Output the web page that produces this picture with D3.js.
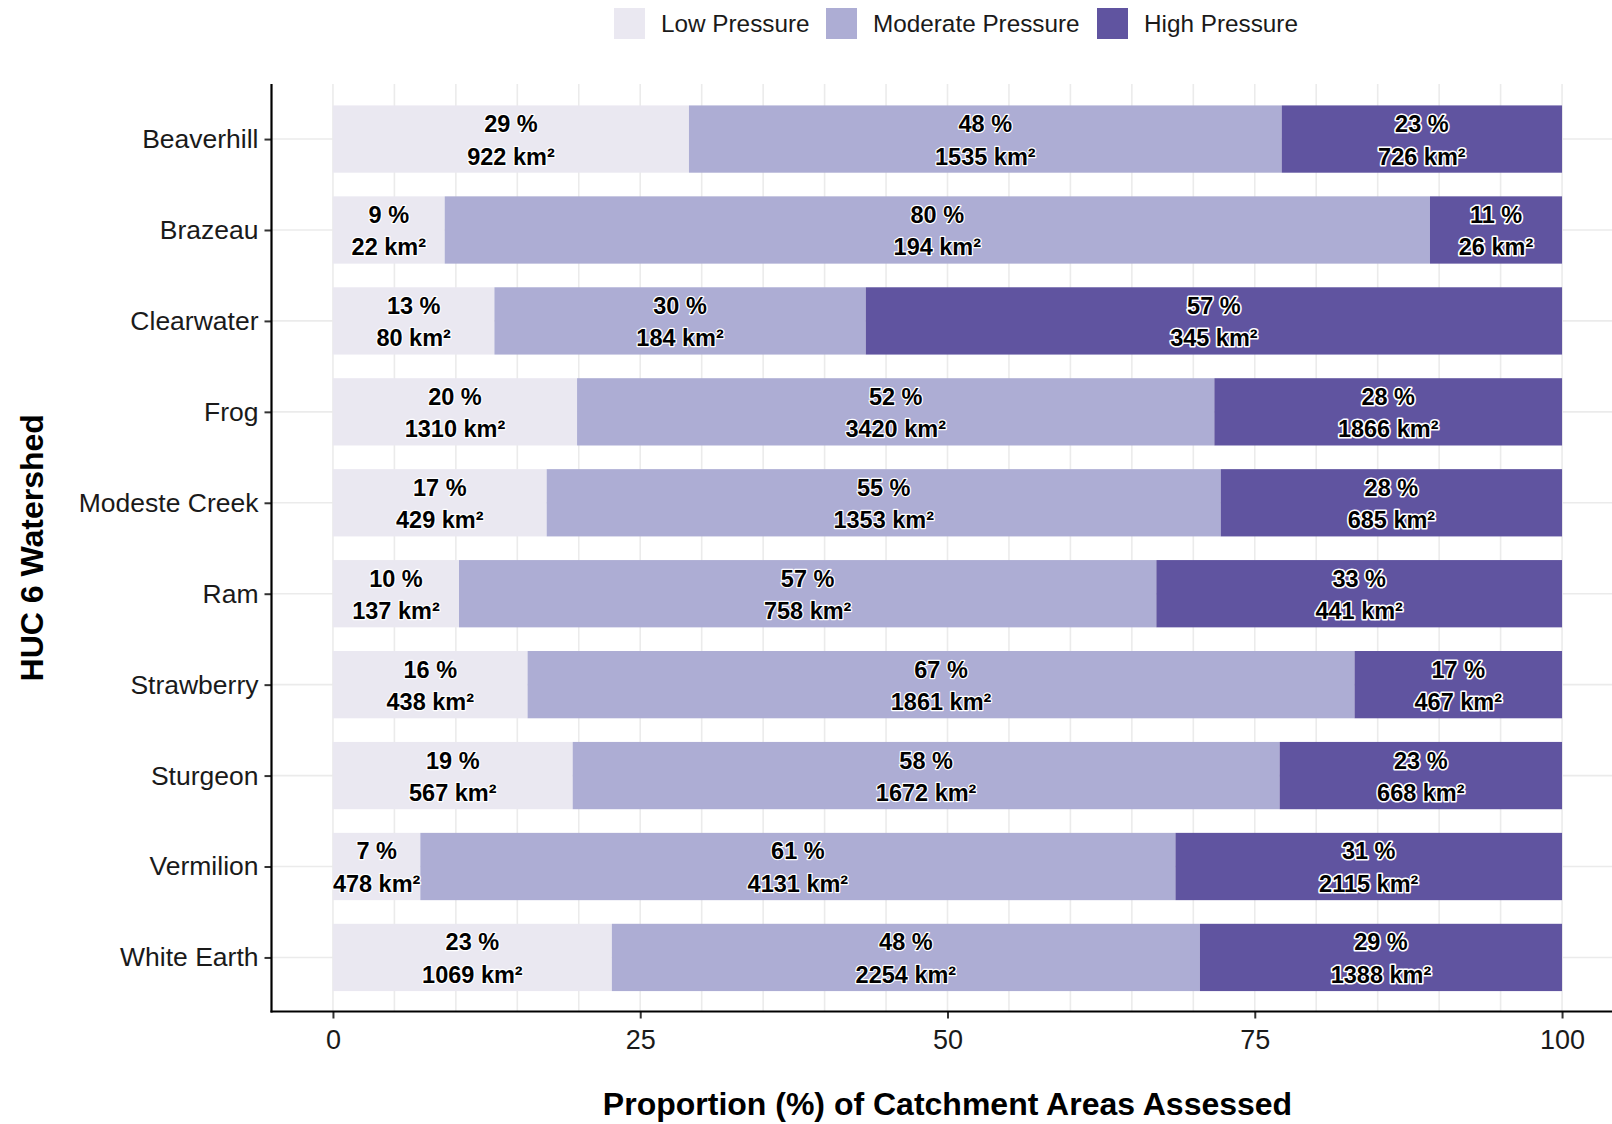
<!DOCTYPE html>
<html>
<head>
<meta charset="utf-8">
<script src="https://cdn.jsdelivr.net/npm/d3@7"></script>
<style>
  html, body { margin: 0; padding: 0; background: #fff; }
  svg { display: block; font-family: "Liberation Sans", Arial, Helvetica, sans-serif; }
</style>
</head>
<body>
<svg id="chart" width="1612" height="1124"></svg>
<script>
const categories = ["Beaverhill", "Brazeau", "Clearwater", "Frog", "Modeste Creek", "Ram", "Strawberry", "Sturgeon", "Vermilion", "White Earth"];
const seriesNames = ["Low Pressure", "Moderate Pressure", "High Pressure"];
const lowArea  = [922, 22, 80, 1310, 429, 137, 438, 567, 478, 1069];
const modArea  = [1535, 194, 184, 3420, 1353, 758, 1861, 1672, 4131, 2254];
const highArea = [726, 26, 345, 1866, 685, 441, 467, 668, 2115, 1388];
const lowPct   = [29, 9, 13, 20, 17, 10, 16, 19, 7, 23];
const modPct   = [48, 80, 30, 52, 55, 57, 67, 58, 61, 48];
const highPct  = [23, 11, 57, 28, 28, 33, 17, 23, 31, 29];
const xTicks = [0, 25, 50, 75, 100];
const colors = ["#EAE8F1", "#ADADD4", "#6054A0"];

const areas = [lowArea, modArea, highArea];
const pcts = [lowPct, modPct, highPct];
const rows = categories.map((c, i) => {
  const r = { category: c, i };
  seriesNames.forEach((s, k) => { r[s] = areas[k][i]; });
  return r;
});

const stack = d3.stack().keys(seriesNames).offset(d3.stackOffsetExpand);
const stacked = stack(rows);

const svg = d3.select("#chart");
const font = '"Liberation Sans", Arial, Helvetica, sans-serif';

const x = d3.scaleLinear().domain([-5, 105]).range([271.5, 1623.5]);
const y = d3.scalePoint().domain(categories).range([84.5, 1012]).padding(0.6);
const step = y.step();
const barH = step * 0.74;

const panelTop = 84, panelBottom = 1011.5, panelLeft = 271.5;

// grid
const grid = svg.append("g");
d3.range(0, 101, 5).forEach(v => {
  grid.append("line")
    .attr("x1", x(v)).attr("x2", x(v))
    .attr("y1", panelTop).attr("y2", panelBottom)
    .attr("stroke", "#ebebeb").attr("stroke-width", 1.6);
});
categories.forEach(c => {
  grid.append("line")
    .attr("x1", panelLeft).attr("x2", 1612)
    .attr("y1", y(c)).attr("y2", y(c))
    .attr("stroke", "#ebebeb").attr("stroke-width", 1.6);
});

// bars
const bars = svg.append("g");
stacked.forEach((layer, k) => {
  bars.selectAll(null).data(layer).enter().append("rect")
    .attr("x", d => x(d[0] * 100))
    .attr("width", d => x(d[1] * 100) - x(d[0] * 100))
    .attr("y", d => y(d.data.category) - barH / 2)
    .attr("height", barH)
    .attr("fill", colors[k]);
});

// labels
const labels = svg.append("g")
  .attr("font-family", font).attr("font-weight", "bold").attr("font-size", 23.5)
  .attr("text-anchor", "middle");
stacked.forEach((layer, k) => {
  layer.forEach(d => {
    const cx = (x(d[0] * 100) + x(d[1] * 100)) / 2;
    const cy = y(d.data.category);
    const i = d.data.i;
    const lines = [pcts[k][i] + " %", areas[k][i] + " km²"];
    lines.forEach((t, j) => {
      labels.append("text")
        .attr("x", cx).attr("y", cy + (j === 0 ? -15.5 : 17))
        .attr("dy", "0.36em")
        .attr("fill", "#000")
        .attr("stroke", "#fff").attr("stroke-width", k === 2 ? 3.2 : 2.4)
        .attr("stroke-linejoin", "round")
        .attr("paint-order", "stroke")
        .text(t);
    });
  });
});

// axes
const xAxis = d3.axisBottom(x).tickValues(xTicks).tickSize(7).tickPadding(11);
const gx = svg.append("g").attr("transform", `translate(0,${panelBottom})`).call(xAxis);
gx.select(".domain").remove();
gx.selectAll(".tick line").attr("stroke", "#333").attr("stroke-width", 2);
gx.selectAll(".tick text").attr("font-family", font).attr("font-size", 27).attr("fill", "#1a1a1a");

const yAxis = d3.axisLeft(y).tickSize(7).tickPadding(6);
const gy = svg.append("g").attr("transform", `translate(${panelLeft},0)`).call(yAxis);
gy.select(".domain").remove();
gy.selectAll(".tick line").attr("stroke", "#333").attr("stroke-width", 2);
gy.selectAll(".tick text").attr("font-family", font).attr("font-size", 26.5).attr("fill", "#1a1a1a");

svg.append("line").attr("x1", panelLeft).attr("x2", panelLeft)
  .attr("y1", panelTop).attr("y2", panelBottom + 1).attr("stroke", "#000").attr("stroke-width", 2.2);
svg.append("line").attr("x1", panelLeft - 1).attr("x2", 1612)
  .attr("y1", panelBottom).attr("y2", panelBottom).attr("stroke", "#000").attr("stroke-width", 2.2);

// axis titles
svg.append("text")
  .attr("x", x(50)).attr("y", 1103).attr("dy", "0.36em")
  .attr("text-anchor", "middle").attr("font-family", font).attr("font-weight", "bold")
  .attr("font-size", 32).attr("fill", "#000")
  .text("Proportion (%) of Catchment Areas Assessed");
svg.append("text")
  .attr("transform", `translate(31,${(panelTop + panelBottom) / 2}) rotate(-90)`)
  .attr("dy", "0.36em")
  .attr("text-anchor", "middle").attr("font-family", font).attr("font-weight", "bold")
  .attr("font-size", 32).attr("fill", "#000")
  .text("HUC 6 Watershed");

// legend
const legendX = [614, 826, 1097];
const legend = svg.append("g");
seriesNames.forEach((s, k) => {
  legend.append("rect").attr("x", legendX[k]).attr("y", 8).attr("width", 31).attr("height", 31)
    .attr("fill", colors[k]);
  legend.append("text").attr("x", legendX[k] + 47).attr("y", 23.5).attr("dy", "0.36em")
    .attr("font-family", font).attr("font-size", 24.3).attr("fill", "#1a1a1a").text(s);
});
</script>
</body>
</html>
